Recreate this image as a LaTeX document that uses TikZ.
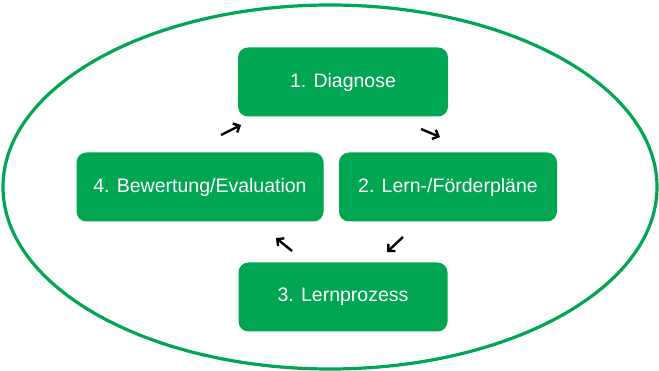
\documentclass[tikz,border=0pt]{standalone}
\usepackage{fontspec}
\setmainfont{Liberation Sans}
\usetikzlibrary{arrows,arrows.meta,positioning,calc}
\definecolor{lgreen}{RGB}{0,166,81}

\begin{document}
\begin{tikzpicture}[x=1pt, y=-1pt, line join=round,
  phase/.style={fill=lgreen, rounded corners=10pt, minimum height=69pt,
    text=white, font=\fontsize{19.5}{22}\selectfont, inner sep=0pt},
  step arrow/.style={-{Straight Barb[length=5pt,width=10pt]}, line width=2.4pt, black}]
\useasboundingbox (0,0) rectangle (659,371);
\draw[lgreen, line width=3.2pt] (330,187) ellipse [x radius=327, y radius=182];
\node[phase, minimum width=210pt] (diag) at (343,82)  {1. Diagnose};
\node[phase, minimum width=218pt] (plan) at (448,187) {2. Lern-/F\"orderpl\"ane};
\node[phase, minimum width=209pt] (proz) at (343,297) {3. Lernprozess};
\node[phase, minimum width=247pt] (eval) at (200,187) {4. Bewertung/Evaluation};
\coordinate (a1) at (221,135);   \coordinate (b1) at (241,125);
\coordinate (a2) at (421,129);   \coordinate (b2) at (440,137);
\coordinate (a3) at (403,237);   \coordinate (b3) at (387,252);
\coordinate (a4) at (292,251);   \coordinate (b4) at (276,238);
\draw[step arrow] (a1) -- (b1);
\draw[step arrow] (a2) -- (b2);
\draw[step arrow] (a3) -- (b3);
\draw[step arrow] (a4) -- (b4);
\end{tikzpicture}
\end{document}
